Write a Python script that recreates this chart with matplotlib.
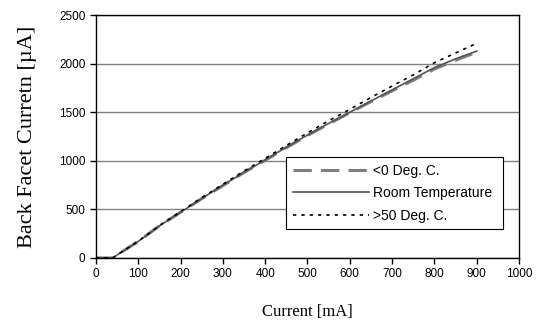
import matplotlib
matplotlib.use("Agg")
import matplotlib.pyplot as plt

current = [0, 20, 40, 50, 100, 150, 200, 250, 300, 350, 400, 450, 500, 550, 600,
           650, 700, 750, 800, 850, 900]
cold = [0, 0, 0, 30, 170, 330, 470, 610, 745, 880, 1005, 1135, 1260, 1380, 1495,
        1610, 1720, 1830, 1945, 2035, 2120]
room = [0, 0, 0, 30, 170, 330, 470, 612, 748, 882, 1010, 1140, 1265, 1385, 1500,
        1615, 1730, 1845, 1960, 2050, 2130]
hot = [0, 0, 0, 32, 172, 333, 476, 620, 758, 895, 1025, 1158, 1288, 1412, 1530,
       1652, 1770, 1885, 2010, 2110, 2210]

fig = plt.figure(figsize=(5.39, 3.22), dpi=100)
ax = fig.add_axes([0.178, 0.199, 0.785, 0.754])

ax.plot(current, cold, color="#7f7f7f", linestyle=(0, (6, 3)), linewidth=2.2, label="<0 Deg. C.")
ax.plot(current, room, color="#555555", linestyle="-", linewidth=1.2, label="Room Temperature")
ax.plot(current, hot, color="black", linestyle=(0, (2, 3)), linewidth=1.2, label=">50 Deg. C.")

ax.set_xlim(0, 1000)
ax.set_ylim(0, 2500)
ax.set_xticks(range(0, 1001, 100))
ax.set_yticks(range(0, 2501, 500))
ax.yaxis.grid(True, color="#808080", linewidth=1)
ax.set_axisbelow(True)
for s in ax.spines.values():
    s.set_color("black")
    s.set_linewidth(1)
ax.tick_params(direction="out", length=4, width=1, labelsize=8.5)
for lab in ax.get_xticklabels() + ax.get_yticklabels():
    lab.set_family("Liberation Sans")

ax.set_xlabel("Current [mA]", family="Liberation Serif", fontsize=12, labelpad=17)
ax.set_ylabel("Back Facet Curretn [\u00b5A]", family="Liberation Serif", fontsize=16)
ax.yaxis.set_label_coords(-0.14, 0.5)

leg = ax.legend(loc="upper left", bbox_to_anchor=(0.449, 0.0, 0.513, 0.416), mode="expand",
                prop={"family": "Liberation Sans", "size": 10}, fancybox=False,
                edgecolor="black", framealpha=1, handlelength=5.5, handletextpad=0.3,
                labelspacing=0.6, borderpad=0.5, borderaxespad=0)
leg.get_frame().set_linewidth(0.8)

fig.savefig("out.png", dpi=100)
